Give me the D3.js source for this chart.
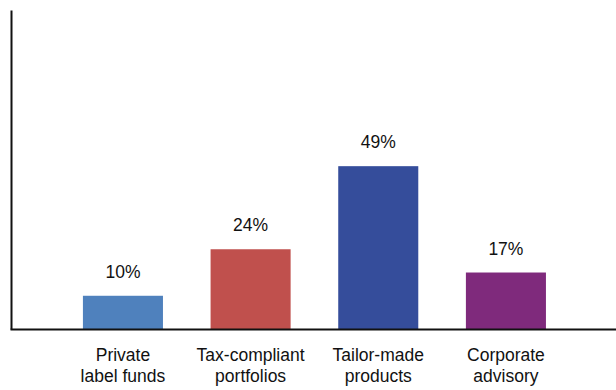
<!DOCTYPE html>
<html>
<head>
<meta charset="utf-8">
<script src="https://cdn.jsdelivr.net/npm/d3@7"></script>
<style>
  html, body { margin: 0; padding: 0; background: #fff; }
  svg { display: block; font-family: Arial, "Liberation Sans", Helvetica, sans-serif; }
</style>
</head>
<body>
<svg id="chart" width="616" height="390"></svg>
<script>
// Share of respondents by service line
const categories = [["Private", "label funds"], ["Tax-compliant", "portfolios"], ["Tailor-made", "products"], ["Corporate", "advisory"]];
const values = [10, 24, 49, 17];
const colors = ["#4f81bd", "#c0504d", "#354d9b", "#7f2a7c"];

const svg = d3.select("#chart");
const keys = categories.map(c => c.join(" "));

const x = d3.scaleBand()
  .domain(keys)
  .range([10, 616])
  .paddingInner(0.373)
  .paddingOuter(0.56)
  .align(0.51);

const y = d3.scaleLinear()
  .domain([0, 96])
  .range([329, 10]);

// Bars
svg.append("g")
  .selectAll("rect")
  .data(values)
  .join("rect")
  .attr("x", (d, i) => x(keys[i]))
  .attr("y", d => y(d))
  .attr("width", x.bandwidth())
  .attr("height", d => y(0) - y(d))
  .attr("fill", (d, i) => colors[i]);

// Value labels
svg.append("g")
  .selectAll("text")
  .data(values)
  .join("text")
  .attr("x", (d, i) => x(keys[i]) + x.bandwidth() / 2)
  .attr("y", d => y(d) - 18)
  .attr("text-anchor", "middle")
  .attr("font-size", 17.5)
  .attr("fill", "#111")
  .text(d => d + "%");

// Left axis: line only
const yAxis = svg.append("g")
  .attr("transform", "translate(11,0)")
  .call(d3.axisLeft(y).tickValues([]).tickSizeOuter(0));
yAxis.select(".domain").attr("stroke", "#111").attr("stroke-width", 2);

// Bottom axis with two-line category labels
const xAxis = svg.append("g")
  .attr("transform", "translate(0,329)")
  .call(d3.axisBottom(x).tickSize(0).tickSizeOuter(0));
xAxis.select(".domain").attr("stroke", "#111").attr("stroke-width", 2);
xAxis.selectAll(".tick text").each(function(d, i) {
  const t = d3.select(this);
  t.text(null)
    .attr("y", 0)
    .attr("dy", null)
    .attr("font-size", 17.5)
    .attr("font-family", "Arial, 'Liberation Sans', sans-serif")
    .attr("fill", "#111");
  categories[i].forEach((line, j) => {
    t.append("tspan")
      .attr("x", 0)
      .attr("y", 32 + j * 21)
      .text(line);
  });
});
</script>
</body>
</html>
